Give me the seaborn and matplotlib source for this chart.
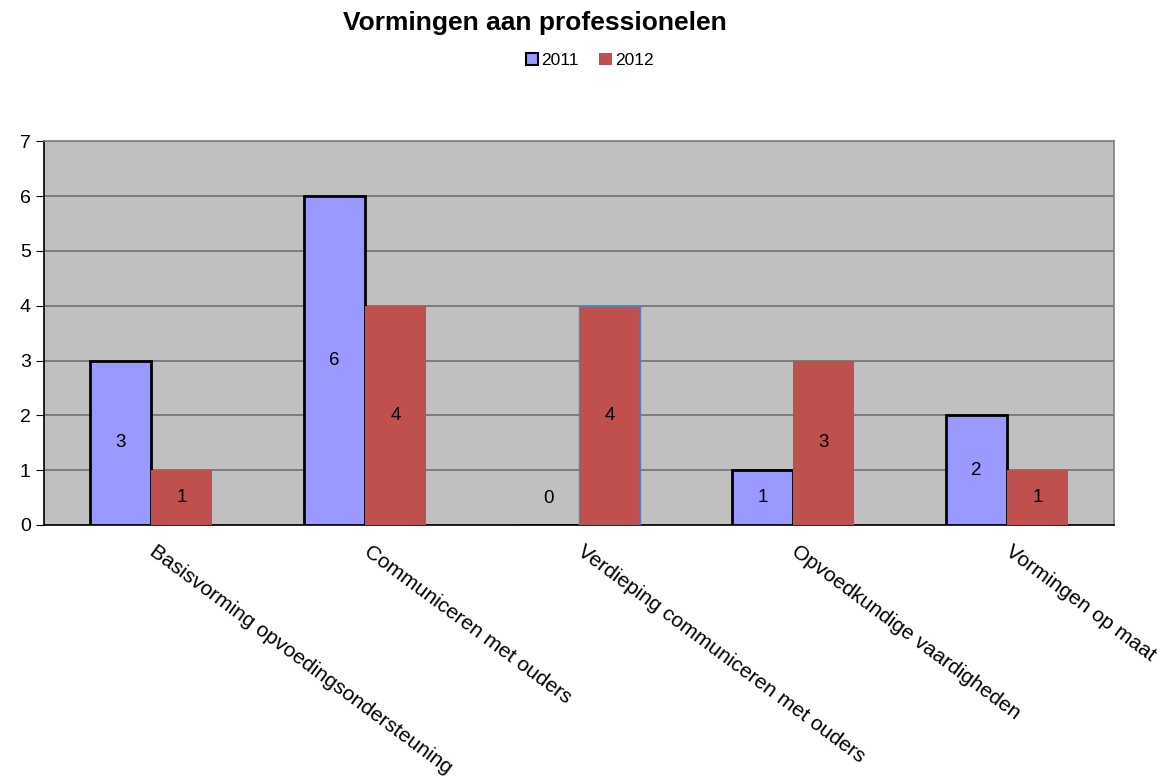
import numpy as np
import pandas as pd
import seaborn as sns
import matplotlib.pyplot as plt
from matplotlib.patches import Patch

# data
categories = ["Basisvorming opvoedingsondersteuning", "Communiceren met ouders",
              "Verdieping communiceren met ouders", "Opvoedkundige vaardigheden",
              "Vormingen op maat"]
jaren = ["2011", "2012"]
waarden_2011 = [3, 6, 0, 1, 2]
waarden_2012 = [1, 4, 4, 3, 1]

df = pd.DataFrame({
    "categorie": categories * 2,
    "jaar": ["2011"] * len(categories) + ["2012"] * len(categories),
    "aantal": waarden_2011 + waarden_2012,
})

sns.set_style("white")
plt.rcParams['font.family'] = ['Liberation Sans', 'DejaVu Sans']
plt.rcParams['text.color'] = 'black'
plt.rcParams['xtick.color'] = 'black'
plt.rcParams['ytick.color'] = 'black'

kleuren = {"2011": "#9999FF", "2012": "#C0504D"}

fig = plt.figure(figsize=(11.63, 7.76), dpi=100)
ax = fig.add_axes([0.0378, 0.3235, 0.9202, 0.4945])
ax.set_facecolor("#C0C0C0")

sns.barplot(data=df, x="categorie", y="aantal", hue="jaar", palette=kleuren,
            width=0.57, saturation=1, ax=ax, legend=False, zorder=3)

# randen en labels van de balken
for container, jaar in zip(ax.containers, jaren):
    for i, bar in enumerate(container):
        h = bar.get_height()
        if jaar == "2011":
            bar.set_edgecolor("black")
            bar.set_linewidth(2)
        elif categories[i].startswith("Verdieping"):
            bar.set_edgecolor("#4F81BD")
            bar.set_linewidth(1)
        else:
            bar.set_linewidth(0)
        xc = bar.get_x() + bar.get_width() / 2
        if h > 0:
            ax.text(xc, h / 2, f"{h:g}", ha="center", va="center", fontsize=13.5, zorder=5)
        else:
            ax.annotate(f"{h:g}", (xc, 0), xytext=(0, 19), textcoords="offset points",
                        ha="center", va="center", fontsize=13.5, zorder=5)

ax.set_ylim(0, 7)
ax.set_xlim(-0.5, len(categories) - 0.5)
ax.set_yticks(range(0, 8))
ax.yaxis.grid(True, color="#707070", linewidth=1.2, zorder=0)
ax.set_axisbelow(True)

ax.set_xticks(np.arange(-0.5, len(categories)), minor=False)
ax.set_xticklabels([])
ax.set_xticks(np.arange(len(categories)) + 0.03, minor=True)
ax.set_xticklabels(categories, minor=True, rotation=-36.5, ha="left", va="top",
                   rotation_mode="anchor", fontsize=15)
ax.tick_params(axis="x", which="minor", length=0, pad=12)
ax.tick_params(axis="x", which="major", length=6, color="black", direction="out")
ax.tick_params(axis="y", length=6, direction="out", labelsize=14, color="black", left=True)
ax.set_xlabel("")
ax.set_ylabel("")

for s in ["left", "bottom"]:
    ax.spines[s].set_color("black")
    ax.spines[s].set_linewidth(1.2)
for s in ["top", "right"]:
    ax.spines[s].set_color("#808080")
    ax.spines[s].set_linewidth(1.2)

fig.text(0.46, 0.971, "Vormingen aan professionelen", ha="center", va="center",
         fontsize=19, fontweight="bold")
handles = [Patch(facecolor=kleuren["2011"], edgecolor="black", linewidth=1.5),
           Patch(facecolor=kleuren["2012"], edgecolor="none")]
fig.legend(handles, jaren, loc="center", bbox_to_anchor=(0.507, 0.922), ncol=2,
           frameon=False, fontsize=12.5, handlelength=0.7, handleheight=0.7,
           handletextpad=0.2, columnspacing=1.2)

fig.savefig("out.png", dpi=100)
